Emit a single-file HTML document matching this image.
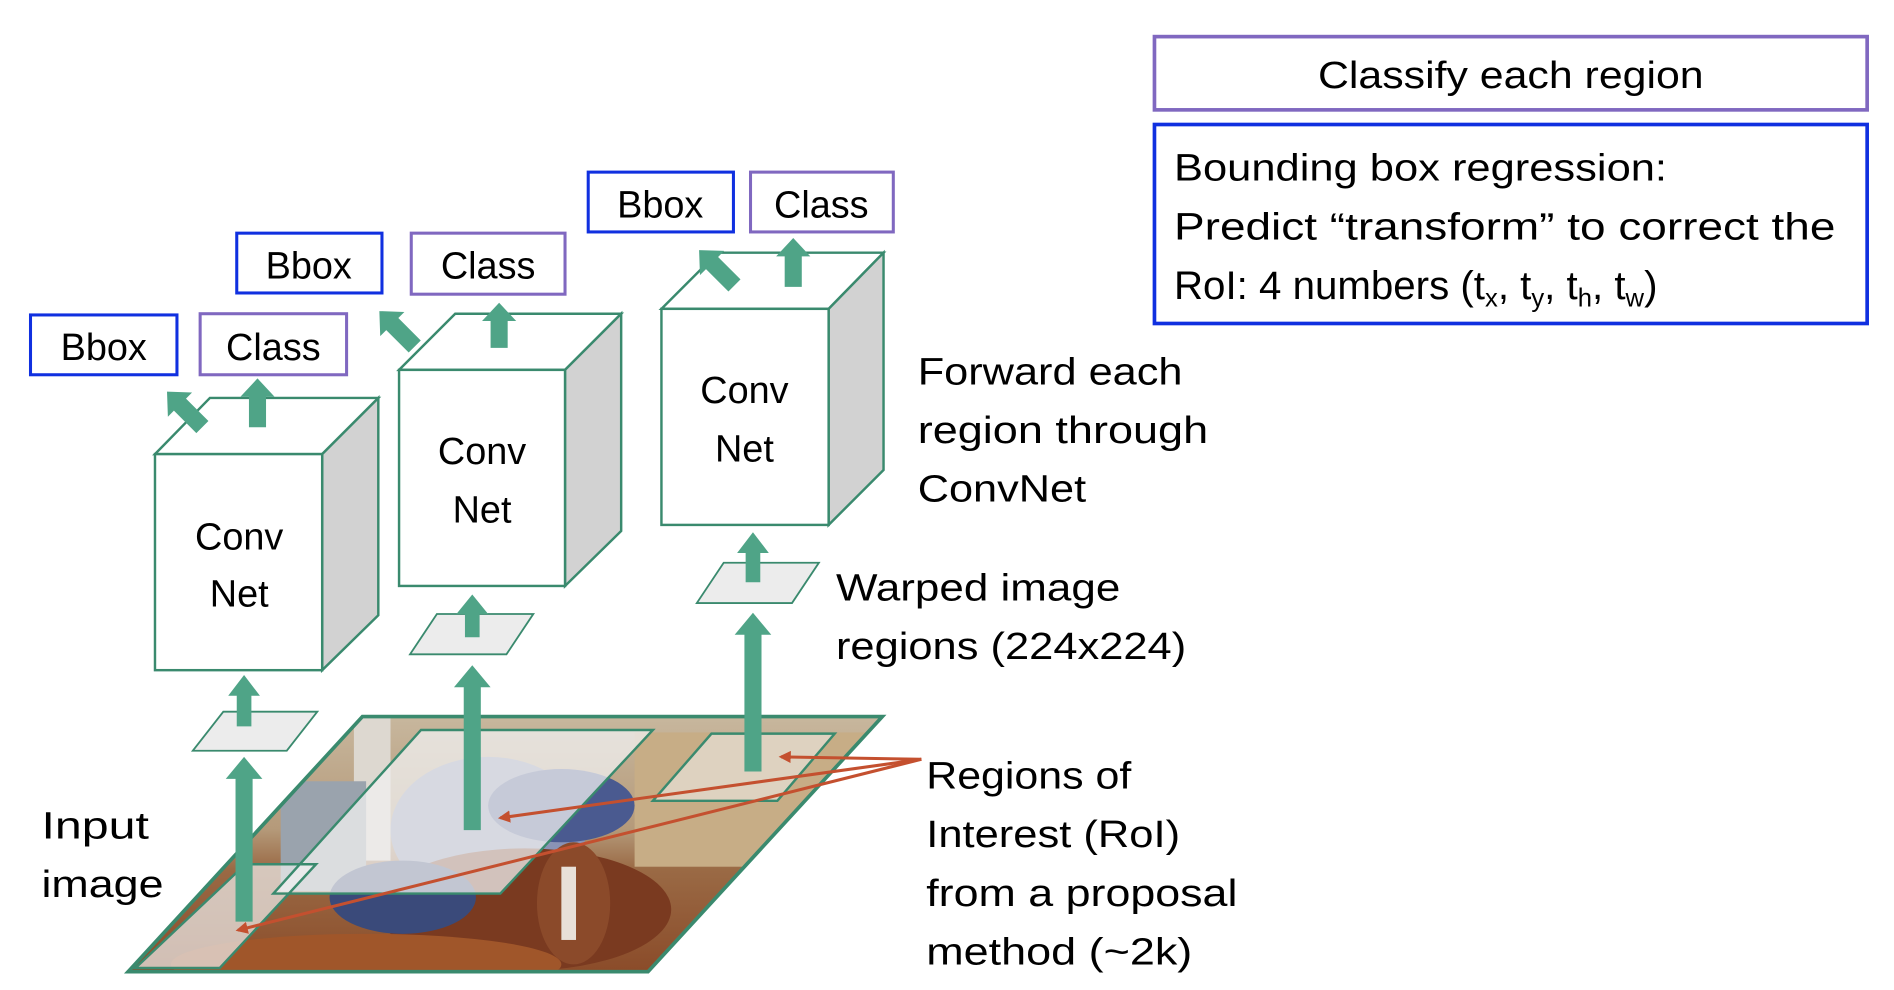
<!DOCTYPE html>
<html><head><style>
html,body{margin:0;padding:0;background:#fff;}
svg{display:block;}
text{font-family:"Liberation Sans",sans-serif;fill:#000;}
</style></head><body>
<svg width="1894" height="990" viewBox="0 0 1552 811" preserveAspectRatio="none" xmlns="http://www.w3.org/2000/svg">
<defs>
<clipPath id="img"><polygon points="297,587 723,587 531,796 105,796"/></clipPath>
<linearGradient id="bg" x1="0" y1="0" x2="0" y2="1">
<stop offset="0" stop-color="#c9b9a0"/><stop offset="0.45" stop-color="#b59a7a"/><stop offset="0.6" stop-color="#9a6a45"/><stop offset="1" stop-color="#8a4a28"/>
</linearGradient>
<marker id="ra" markerWidth="10" markerHeight="10" refX="8" refY="5" orient="auto" markerUnits="userSpaceOnUse"><path d="M0,0 L10,5 L0,10 z" fill="#c4502f"/></marker>
</defs>

<g clip-path="url(#img)">
<rect x="100" y="580" width="630" height="220" fill="url(#bg)"/>
<rect x="290" y="585" width="30" height="120" fill="#ddd8d0"/>
<rect x="230" y="640" width="70" height="90" fill="#9aa3ad"/>
<rect x="520" y="600" width="200" height="110" fill="#c7ad86"/>
<ellipse cx="400" cy="680" rx="80" ry="60" fill="#8a93b5"/>
<ellipse cx="460" cy="660" rx="60" ry="30" fill="#4a5a90"/>
<ellipse cx="430" cy="745" rx="120" ry="50" fill="#7a3a20"/>
<ellipse cx="470" cy="740" rx="30" ry="50" fill="#8b4a2a"/>
<rect x="460" y="710" width="12" height="60" fill="#e8e0d8"/>
<ellipse cx="300" cy="790" rx="160" ry="25" fill="#a0562a"/>
<ellipse cx="330" cy="735" rx="60" ry="30" fill="#3a4a7a"/>
<polygon points="345,598 535,598 410,732 224,732" fill="rgba(240,240,240,0.75)"/>
<polygon points="583,601 684,601 637,656 535,656" fill="rgba(240,240,240,0.55)"/>
<polygon points="201,708 259,708 180,793 111,793" fill="rgba(240,240,240,0.7)"/>
</g>
<polygon points="345,598 535,598 410,732 224,732" fill="none" stroke="#3a8a6e" stroke-width="2"/>
<polygon points="583,601 684,601 637,656 535,656" fill="none" stroke="#3a8a6e" stroke-width="2"/>
<polygon points="201,708 259,708 180,793 111,793" fill="none" stroke="#3a8a6e" stroke-width="2"/>
<polygon points="297,587 723,587 531,796 105,796" fill="none" stroke="#3a8a6e" stroke-width="3"/>

<g fill="#ececec" stroke="#3a8a6e" stroke-width="1.5">
<polygon points="183,583 260,583 235,615 158,615"/>
<polygon points="358,503 437,503 415,536 336,536"/>
<polygon points="593,461 671,461 649,494 571,494"/>
</g>

<g stroke="#3a8a6e" stroke-width="2">
<polygon points="127,372 172,326 310,326 264,372" fill="#fff"/>
<polygon points="264,372 310,326 310,504 264,549" fill="#d2d2d2"/>
<rect x="127" y="372" width="137" height="177" fill="#fff"/>
<polygon points="327,303 373,257 509,257 463,303" fill="#fff"/>
<polygon points="463,303 509,257 509,435 463,480" fill="#d2d2d2"/>
<rect x="327" y="303" width="136" height="177" fill="#fff"/>
<polygon points="542,253 588,207 724,207 679,253" fill="#fff"/>
<polygon points="679,253 724,207 724,385 679,430" fill="#d2d2d2"/>
<rect x="542" y="253" width="137" height="177" fill="#fff"/>
</g>
<g font-size="31" text-anchor="middle">
<text x="196" y="450">Conv</text><text x="196" y="497">Net</text>
<text x="395" y="380">Conv</text><text x="395" y="428">Net</text>
<text x="610" y="330">Conv</text><text x="610" y="378">Net</text>
</g>

<g fill="#4fa487">
<polygon points="193,755 193,638 185,638 200,620 215,638 207,638 207,755"/>
<polygon points="380,680 380,563 372,563 387,545 402,563 394,563 394,680"/>
<polygon points="610,632 610,520 602,520 617,502 632,520 624,520 624,632"/>
<polygon points="194,595 194,570 187,570 200,553 213,570 206,570 206,595"/>
<polygon points="381,522 381,503 374,503 387,487 400,503 393,503 393,522"/>
<polygon points="611,477 611,453 604,453 617,436 630,453 623,453 623,477"/>
<polygon points="204,350 204,325 197,325 211,310 225,325 218,325 218,350"/>
<polygon points="402,285 402,263 395,263 409,248 423,263 416,263 416,285"/>
<polygon points="643,235 643,210 636,210 650,195 664,210 657,210 657,235"/>
<g transform="translate(151,335) rotate(-45)"><polygon points="-7,21 -7,-5 -14,-5 0,-20 14,-5 7,-5 7,21"/></g>
<g transform="translate(325,269) rotate(-45)"><polygon points="-7,21 -7,-5 -14,-5 0,-20 14,-5 7,-5 7,21"/></g>
<g transform="translate(587,219) rotate(-45)"><polygon points="-7,21 -7,-5 -14,-5 0,-20 14,-5 7,-5 7,21"/></g>
</g>

<g stroke="#c4502f" stroke-width="2.5" fill="none">
<line x1="755" y1="622" x2="640" y2="620" marker-end="url(#ra)"/>
<line x1="755" y1="622" x2="410" y2="670" marker-end="url(#ra)"/>
<line x1="755" y1="622" x2="195" y2="762" marker-end="url(#ra)"/>
</g>

<g fill="#fff" stroke-width="2.5">
<rect x="25" y="258" width="120" height="49" stroke="#1030e0"/>
<rect x="164" y="257" width="120" height="50" stroke="#8068c0"/>
<rect x="194" y="191" width="119" height="49" stroke="#1030e0"/>
<rect x="337" y="191" width="126" height="50" stroke="#8068c0"/>
<rect x="482" y="141" width="119" height="49" stroke="#1030e0"/>
<rect x="615" y="141" width="117" height="49" stroke="#8068c0"/>
<rect x="946" y="30" width="584" height="60" stroke="#8068c0" stroke-width="3"/>
<rect x="946" y="102" width="584" height="163" stroke="#1030e0" stroke-width="3"/>
</g>
<g font-size="31" text-anchor="middle">
<text x="85" y="295">Bbox</text><text x="224" y="295">Class</text>
<text x="253" y="228">Bbox</text><text x="400" y="228">Class</text>
<text x="541" y="178">Bbox</text><text x="673" y="178">Class</text>
<text x="1238" y="72" textLength="316" lengthAdjust="spacingAndGlyphs">Classify each region</text>
</g>
<g font-size="31">
<text x="962" y="148" textLength="404" lengthAdjust="spacingAndGlyphs">Bounding box regression:</text>
<text x="962" y="196" textLength="542" lengthAdjust="spacingAndGlyphs">Predict “transform” to correct the</text>
<text x="962" y="245" font-size="33">RoI: 4 numbers (t<tspan font-size="21" dy="6">x</tspan><tspan dy="-6">, t</tspan><tspan font-size="21" dy="6">y</tspan><tspan dy="-6">, t</tspan><tspan font-size="21" dy="6">h</tspan><tspan dy="-6">, t</tspan><tspan font-size="21" dy="6">w</tspan><tspan dy="-6">)</tspan></text>

<text x="752" y="315" textLength="217" lengthAdjust="spacingAndGlyphs">Forward each</text>
<text x="752" y="363" textLength="238" lengthAdjust="spacingAndGlyphs">region through</text>
<text x="752" y="411" textLength="138" lengthAdjust="spacingAndGlyphs">ConvNet</text>
<text x="685" y="492" textLength="233" lengthAdjust="spacingAndGlyphs">Warped image</text>
<text x="685" y="540" textLength="287" lengthAdjust="spacingAndGlyphs">regions (224x224)</text>
<text x="759" y="646" textLength="168" lengthAdjust="spacingAndGlyphs">Regions of</text>
<text x="759" y="694" textLength="208" lengthAdjust="spacingAndGlyphs">Interest (RoI)</text>
<text x="759" y="742" textLength="255" lengthAdjust="spacingAndGlyphs">from a proposal</text>
<text x="759" y="790" textLength="218" lengthAdjust="spacingAndGlyphs">method (~2k)</text>
<text x="34" y="687" textLength="88" lengthAdjust="spacingAndGlyphs">Input</text>
<text x="34" y="735" textLength="100" lengthAdjust="spacingAndGlyphs">image</text>
</g>
</svg>
</body></html>
